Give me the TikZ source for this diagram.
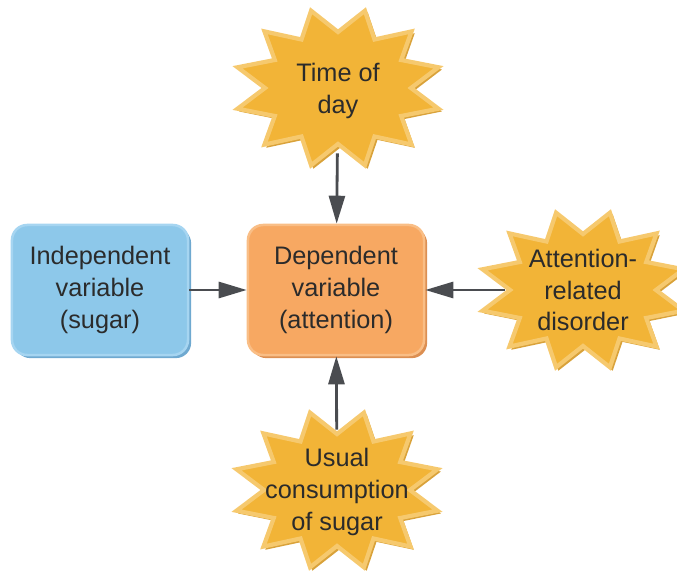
\documentclass[tikz,border=0pt]{standalone}
\usepackage{fontspec}
\setmainfont{Liberation Sans}
\usetikzlibrary{arrows.meta}

\definecolor{burstfill}{HTML}{F2B437}
\definecolor{burstrim}{HTML}{F6C96E}
\definecolor{burstdark}{HTML}{D9A23A}
\definecolor{ivfill}{HTML}{8DC8EA}
\definecolor{ivlight}{HTML}{A6D5F1}
\definecolor{ivrim}{HTML}{6FA9D0}
\definecolor{dvfill}{HTML}{F7A862}
\definecolor{dvlight}{HTML}{F9BE86}
\definecolor{dvrim}{HTML}{DC8F52}
\definecolor{arrowgray}{HTML}{4A4C50}
\definecolor{textgray}{HTML}{2B2B2B}

% 12-point burst round a centre
\newcommand\burst[1]{%
  \begin{scope}[shift={#1}]
    \fill[burstdark, shift={(2.5,2.5)}] (15:105 and 81)
      \foreach \a in {30,60,...,360}{ -- (\a:74 and 57) -- (\a+15:105 and 81)} -- cycle;
    \filldraw[burstshape] (15:104 and 80)
      \foreach \a in {30,60,...,360}{ -- (\a:73 and 56) -- (\a+15:104 and 80)} -- cycle;
  \end{scope}}

\begin{document}
\begin{tikzpicture}[x=0.025cm,y=-0.025cm,
    every node/.style={font=\fontsize{18}{22.7}\selectfont, text=textgray, align=center},
    varbox/.style={rounded corners=0.38cm, minimum width=4.4cm, minimum height=3.25cm, line width=1.8pt},
    burstshape/.style={fill=burstfill, draw=burstrim, line width=3pt, line join=miter},
    bursttext/.style={minimum width=3.9cm, minimum height=3.1cm, inner sep=0pt},
    link/.style={-{Triangle[length=0.7cm,width=0.4cm]}, line width=2pt, draw=arrowgray}]
  \useasboundingbox (0,0) rectangle (677,571);

  % Bursts
  \burst{(338,88)}
  \burst{(583,290)}
  \burst{(337,490)}

  \node[bursttext] (time) at (338,91) {Time of\\day};
  \node[bursttext] (disorder) at (583,290) {Attention-\\related\\disorder};
  \node[bursttext] (usual) at (337,492) {Usual\\consumption\\of sugar};

  % Boxes
  \node[varbox, fill=ivfill, draw=ivlight,
    preaction={fill=ivrim, transform canvas={shift={(2.2pt,-2.2pt)}}}]
    (indep) at (100,290) {Independent\\variable\\(sugar)};
  \node[varbox, fill=dvfill, draw=dvlight,
    preaction={fill=dvrim, transform canvas={shift={(2.2pt,-2.2pt)}}}]
    (dep) at (336,290) {Dependent\\variable\\(attention)};

  % Arrows
  \draw[link] (indep) -- (dep);
  \draw[link] (time) -- (dep);
  \draw[link] (disorder) -- (dep);
  \draw[link] (usual) -- (dep);
\end{tikzpicture}
\end{document}
